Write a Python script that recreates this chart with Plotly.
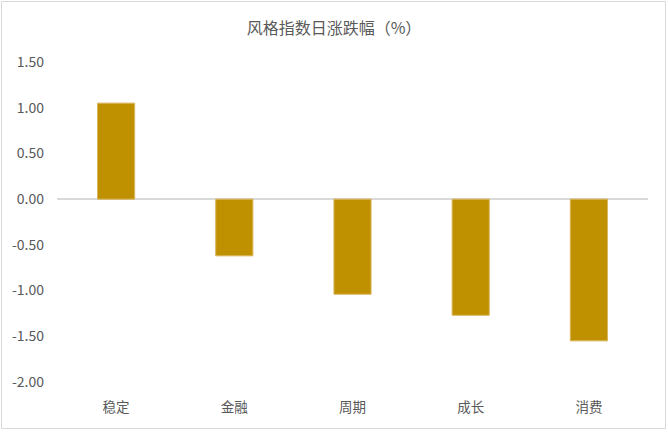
import plotly.graph_objects as go

categories = ["稳定", "金融", "周期", "成长", "消费"]
values = [1.05, -0.62, -1.04, -1.27, -1.55]
tick_vals = [1.5, 1.0, 0.5, 0.0, -0.5, -1.0, -1.5, -2.0]
tick_text = ["1.50", "1.00", "0.50", "0.00", "-0.50", "-1.00", "-1.50", "-2.00"]
title_text = "风格指数日涨跌幅（%）"

W, H = 668, 432
ml, mr, mt, mb = 57, 20, 62, 50
pw, ph = W - ml - mr, H - mt - mb

font_family = "Microsoft YaHei, Noto Sans CJK SC, sans-serif"

fig = go.Figure(go.Bar(
    x=categories, y=values,
    marker=dict(color="#BF9000", line=dict(color="#D9B45A", width=1)),
))

fig.update_layout(
    width=W, height=H,
    margin=dict(l=ml, r=mr, t=mt, b=mb),
    paper_bgcolor="white", plot_bgcolor="white",
    bargap=0.686,
    showlegend=False,
    font=dict(family=font_family, size=13, color="#595959"),
    title=dict(text=title_text, x=0.5, xanchor="center", y=1 - 28 / H, yanchor="middle",
               font=dict(size=16, color="#595959", family=font_family)),
    xaxis=dict(showgrid=False, showline=False, ticks="", zeroline=False,
               tickfont=dict(size=13.5, color="#595959"), ticklabelstandoff=15),
    yaxis=dict(range=[-2.0, 1.5], tickvals=tick_vals, ticktext=tick_text,
               showgrid=False, zeroline=True, zerolinecolor="#D9D9D9", zerolinewidth=1.5,
               showline=False, ticks="", ticklabelstandoff=12,
               tickfont=dict(size=14, color="#595959")),
    shapes=[dict(type="rect", xref="paper", yref="paper",
                 x0=(1.5 - ml) / pw, x1=(W - 2.5 - ml) / pw,
                 y0=(H - mb - 428.5) / ph, y1=(H - mb - 1.5) / ph,
                 line=dict(color="#D9D9D9", width=1), fillcolor="rgba(0,0,0,0)",
                 layer="below")],
)

fig.write_html("out.html")
